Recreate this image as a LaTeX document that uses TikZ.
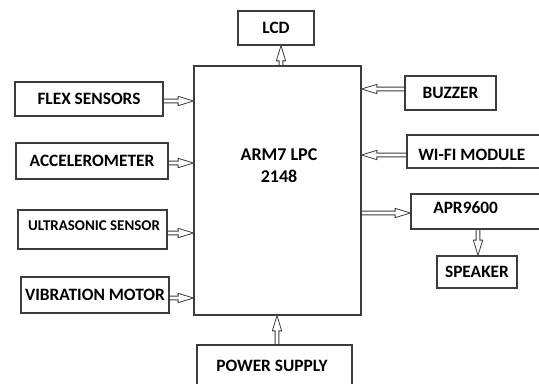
\documentclass[tikz,border=0pt]{standalone}
\usepackage{fontspec}
\setmainfont{Carlito}
\usetikzlibrary{calc}
\definecolor{ln}{HTML}{3C3C3C}
\begin{document}
\begin{tikzpicture}[x=0.75pt,y=-0.75pt,
  box/.style={draw=ln, line width=0.8pt, inner sep=0pt, font=\fontsize{13}{15}\selectfont\bfseries},
  sz/.style 2 args={minimum width=#1*0.75pt, minimum height=#2*0.75pt},
  lbl/.style={inner sep=0pt, font=\fontsize{13}{15}\selectfont\bfseries},
  fatarrow/.style={draw=ln, fill=white, line width=0.6pt, line join=miter, to path={
    let \p1=(\tikztostart), \p2=(\tikztotarget),
        \n1={atan2(\y2-\y1,\x2-\x1)}, \n2={veclen(\x2-\x1,\y2-\y1)} in
    {[shift={(\p1)}, rotate=\n1]
     (0pt,1.4pt) -- (\n2-11.5pt,1.4pt) -- (\n2-11.5pt,3.5pt) -- ({\n2*1pt},0pt)
     -- (\n2-11.5pt,-3.5pt) -- (\n2-11.5pt,-1.4pt) -- (0pt,-1.4pt) -- cycle}}}]
\useasboundingbox (0,0) rectangle (539,383);
\clip (0,0) rectangle (539,383);
\fill[white] (0,0) rectangle (539,383);
% boxes
\node[box, sz={76}{34}] (lcd) at (276,28) {LCD};
\node[box, sz={167}{249}] (main) at (277.5,190.5) {};
\node[lbl, align=center, font=\fontsize{13.5}{16.5}\selectfont\bfseries] (armtxt) at (279,166) {ARM7 LPC\\2148};
\node[box, sz={148}{34}] (flex) at (89,99) {FLEX SENSORS};
\node[box, sz={152}{36}] (accel) at (92,161) {ACCELEROMETER};
\node[box, sz={149}{39}] (ultra) at (92.5,229.5) {};
\node[lbl, font=\fontsize{11.2}{13}\selectfont\bfseries] (ultratxt) at (94,226) {ULTRASONIC SENSOR};
\node[box, sz={148}{36}] (vib) at (95,295) {VIBRATION MOTOR};
\node[box, sz={91}{34}] (buzzer) at (450.5,93) {BUZZER};
\node[box, sz={193}{33}] (wifi) at (503.5,151.5) {};
\node[lbl, anchor=west] (wifitxt) at (418,155) {WI-FI MODULE};
\node[box, sz={189}{35}] (apr) at (505.5,211.5) {};
\node[lbl, anchor=west] (aprtxt) at (433,208) {APR9600};
\node[box, sz={80}{32}] (speaker) at (477,272) {SPEAKER};
\node[box, sz={155}{54}] (power) at (274.5,372) {};
\node[lbl] (powertxt) at (272,366) {POWER SUPPLY};
% arrow levels
\coordinate (ya) at (0,101);
\coordinate (yb) at (0,163);
\coordinate (yc) at (0,233);
\coordinate (yd) at (0,298);
\coordinate (ye) at (0,89);
\coordinate (yf) at (0,155);
\coordinate (yg) at (0,213);
\coordinate (xa) at (281,0);
\coordinate (xb) at (277,0);
\coordinate (xc) at (478,0);
% arrows
\draw[fatarrow] (flex.east |- ya) to (main.west |- ya);
\draw[fatarrow] (accel.east |- yb) to (main.west |- yb);
\draw[fatarrow] (ultra.east |- yc) to (main.west |- yc);
\draw[fatarrow] (vib.east |- yd) to (main.west |- yd);
\draw[fatarrow] (buzzer.west |- ye) to (main.east |- ye);
\draw[fatarrow] (wifi.west |- yf) to (main.east |- yf);
\draw[fatarrow] (main.east |- yg) to (apr.west |- yg);
\draw[fatarrow] (main.north -| xa) to (lcd.south -| xa);
\draw[fatarrow] (power.north -| xb) to (main.south -| xb);
\draw[fatarrow] (apr.south -| xc) to (speaker.north -| xc);
\end{tikzpicture}
\end{document}
